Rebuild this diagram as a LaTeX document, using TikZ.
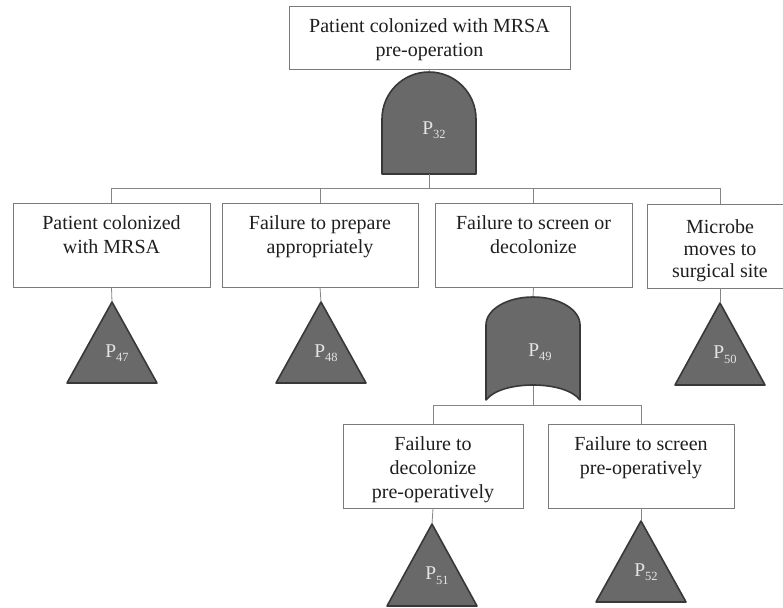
\documentclass[tikz,border=0pt]{standalone}
\usepackage{fontspec}
\setmainfont{Liberation Serif}
\definecolor{boxline}{HTML}{7A7A7A}
\definecolor{conn}{HTML}{858585}
\definecolor{gfill}{HTML}{696969}
\definecolor{gline}{HTML}{383838}
\definecolor{glab}{HTML}{E4E4E4}
\definecolor{txt}{HTML}{1E1E1E}
\newcommand\bxt[4]{\parbox[t][#2][t]{#1}{\centering\rule{0pt}{#3}#4}}
\newcommand\gl[1]{P\raisebox{-0.45ex}{\fontsize{12.5}{12.5}\selectfont #1}}
\tikzset{
  box/.style={draw=boxline, line width=0.8pt, inner sep=0pt, text=txt,
    font=\fontsize{20}{24}\selectfont},
  conn/.style={draw=conn, line width=0.8pt},
  gate/.style={fill=gfill, draw=gline, line width=1.6pt, line join=round},
  glabel/.style={text=glab, inner sep=0pt, font=\fontsize{19.5}{19.5}\selectfont},
}
\begin{document}
\begin{tikzpicture}[x=1pt,y=-1pt]
\useasboundingbox (0,0) rectangle (783,607);
% boxes
\node[box] (top) at (429.5,37.5) {\bxt{281pt}{63pt}{27pt}{Patient colonized with MRSA\\pre-operation}};
\node[box] (b1) at (111.5,245) {\bxt{197pt}{84pt}{26pt}{Patient colonized\\with MRSA}};
\node[box] (b2) at (320,245) {\bxt{196pt}{84pt}{26pt}{Failure to prepare\\appropriately}};
\node[box] (b3) at (533.5,245) {\bxt{197pt}{84pt}{26pt}{Failure to screen or\\decolonize}};
\node[box] (b4) at (720,246) {\bxt{146pt}{84pt}{29pt}{\fontsize{20}{22}\selectfont Microbe\\moves to\\surgical site}};
\node[box] (b5) at (433,466) {\bxt{180pt}{84pt}{26pt}{Failure to\\decolonize\\pre-operatively}};
\node[box] (b6) at (641,466) {\bxt{186pt}{84pt}{26pt}{Failure to screen\\pre-operatively}};
% AND gate P32
\path[gate] (382,174) -- (382,119) .. controls (382,93) and (403,72) .. (429,72)
  .. controls (455,72) and (476,93) .. (476,119) -- (476,174) -- cycle;
\coordinate (g32top) at (429,72);
\coordinate (g32bot) at (429,174);
\node[glabel] (l32) at (434,130) {\gl{32}};
% OR gate P49
\path[gate] (486,400) -- (486,325) .. controls (486,309.5) and (507,297) .. (533,297)
  .. controls (559,297) and (580,309.5) .. (580,325) -- (580,400)
  .. controls (565,380) and (501,380) .. cycle;
\coordinate (g49top) at (533,297);
\coordinate (g49bot) at (533,386);
\node[glabel] (l49) at (540,352) {\gl{49}};
% triangles
\foreach \n/\x/\y/\yb in {47/112/302/383, 48/321/302/383, 50/720/303/385, 51/432/524/606, 52/641/521/602}{
  \path[gate] (\x,\y) -- (\x+45,\yb) -- (\x-45,\yb) -- cycle;
  \coordinate (t\n) at (\x,\y);
  \node[glabel] (l\n) at (\x+5,{(\y+2*\yb)/3-3}) {\gl{\n}};
}
% connectors
\coordinate (bus1) at (0,188);
\coordinate (bus2) at (0,405);
\draw[conn] (top.south) -- (g32top);
\draw[conn] (g32bot) -- (g32bot |- bus1);
\draw[conn] (b1.north) -- (b1.north |- bus1) -- (t50 |- bus1) -- (t50 |- b4.north);
\draw[conn] (b2.north) -- (b2.north |- bus1);
\draw[conn] (b3.north) -- (b3.north |- bus1);
\draw[conn] (b1.south) -- (t47);
\draw[conn] (b2.south) -- (t48);
\draw[conn] (t50 |- b4.south) -- (t50);
\draw[conn] (b3.south) -- (g49top);
\draw[conn] (g49bot) -- (g49bot |- bus2);
\draw[conn] (b5.north) -- (b5.north |- bus2) -- (b6.north |- bus2) -- (b6.north);
\draw[conn] (b5.south) -- (t51);
\draw[conn] (b6.south) -- (t52);
\end{tikzpicture}
\end{document}
